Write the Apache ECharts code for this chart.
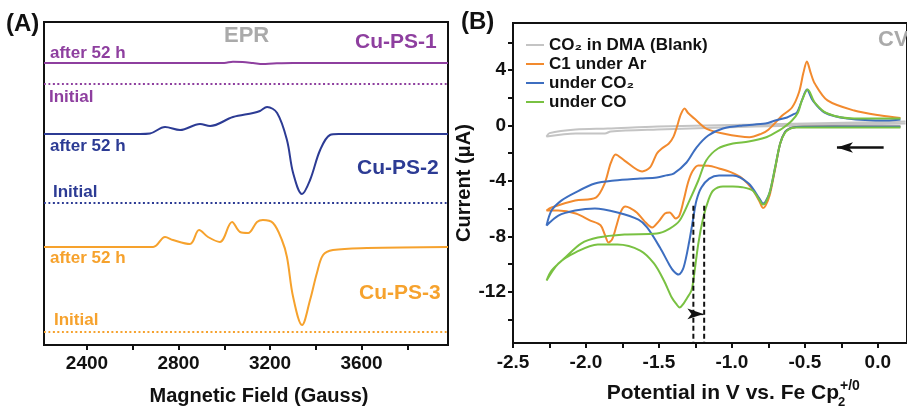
<!DOCTYPE html>
<html>
<head>
<meta charset="utf-8">
<script src="https://cdn.jsdelivr.net/npm/echarts@6/dist/echarts.min.js"></script>
<style>
  html, body { margin: 0; padding: 0; background: #fff; }
  #main { width: 907px; height: 407px; }
</style>
</head>
<body>
<div id="main"></div>
<script>
// ---- (A) EPR: field in Gauss, signal relative to its own baseline (a.u.) ----
var eprFieldTicks = [2400, 2600, 2800, 3000, 3200, 3400, 3600, 3800];
var eprFieldLabels = [2400, 2800, 3200, 3600];
// baseline of each trace on the stacked y axis
var eprOffsets = { ps1: 282, ps1Init: 261, ps2: 211, ps2Init: 142, ps3: 98, ps3Init: 13 };

var ps1After = [[2212,0],[3000,0],[3038,1.3],[3080,1],[3126,0],[3169,-1],[3213,-0.5],[3300,0],[3978,0]];
var ps2After = [[2212,0],[2632,0],[2675,0.5],[2741,7],[2807,4],[2894,10],[2938,8],[3038,17],[3126,21],
  [3156,23],[3187,27],[3231,21],[3274,-6],[3301,-39],[3340,-60],[3375,-46],[3419,-16],[3462,-1],[3500,0],[3978,0]];
var ps3After = [[2212,0],[2689,0],[2741,10],[2776,7],[2850,3],[2890,17],[2929,10],[2981,5],[3034,25],
  [3069,15],[3104,14],[3143,25],[3169,27],[3213,24],[3252,7],[3274,-10],[3301,-50],[3340,-78],[3375,-53],
  [3405,-26],[3432,-8],[3475,-3],[3624,-1],[3978,0]];
var initialFlat = [[2212,0],[3978,0]];

// ---- (B) CV: potential (V vs Fc) and current (uA), loops in scan order ----
var cvTicksX = [-2.5,-2.25,-2,-1.75,-1.5,-1.25,-1,-0.75,-0.5,-0.25,0];
var cvLabelsX = [-2.5,-2,-1.5,-1,-0.5,0];
var cvTicksY = [-14,-12,-10,-8,-6,-4,-2,0,2,4,6];
var cvLabelsY = [-12,-8,-4,0,4];

var blank = [[0.19,0.14],[-0.84,-0.07],[-1.51,-0.29],[-1.83,-0.43],[-1.87,-0.58],[-2.07,-0.58],[-2.27,-0.79],
  [-2.25,-0.55],[-2.07,-0.29],[-1.85,-0.22],[-1.51,-0.07],[-0.84,0.07],[0.19,0.29]];

var c1Ar = [[0.155,-0.07],[-0.3,-0.07],[-0.56,-0.1],[-0.6,-0.2],[-0.635,-0.45],[-0.669,-1.3],[-0.703,-3.1],
  [-0.74,-5.0],[-0.77,-5.8],[-0.787,-5.95],[-0.81,-5.5],[-0.86,-4.6],[-0.93,-3.8],[-1.0,-3.4],[-1.088,-3.1],
  [-1.16,-2.9],[-1.23,-2.89],[-1.27,-3.3],[-1.3,-4.1],[-1.331,-5.42],[-1.36,-6.5],[-1.385,-6.71],[-1.426,-6.28],
  [-1.459,-6.35],[-1.5,-6.9],[-1.547,-7.36],[-1.6,-6.9],[-1.65,-6.3],[-1.7,-5.95],[-1.73,-5.85],[-1.76,-6.2],
  [-1.79,-7.2],[-1.82,-8.2],[-1.845,-8.45],[-1.87,-7.9],[-1.9,-7.2],[-1.97,-6.86],[-2.07,-6.35],[-2.19,-6.14],
  [-2.27,-6.14],
  [-2.236,-5.92],[-2.074,-5.42],[-1.932,-5.2],[-1.872,-4.19],[-1.831,-2.74],[-1.797,-2.09],[-1.736,-2.53],
  [-1.615,-3.32],[-1.561,-3.03],[-1.514,-2.02],[-1.48,-1.66],[-1.432,-1.3],[-1.4,-0.8],[-1.378,-0.14],
  [-1.35,0.8],[-1.324,1.23],[-1.3,0.9],[-1.257,0.5],[-1.176,-0.22],[-1.061,-0.58],[-0.88,-0.85],[-0.8,-0.6],
  [-0.75,-0.3],[-0.655,0.72],[-0.588,1.3],[-0.54,2.4],[-0.51,3.8],[-0.486,4.62],[-0.46,3.8],[-0.432,3.03],
  [-0.345,1.81],[-0.162,1.08],[0.02,0.72],[0.155,0.55]];

var underCO2 = [[0.155,-0.07],[-0.3,-0.07],[-0.56,-0.1],[-0.6,-0.2],[-0.635,-0.45],[-0.669,-1.3],[-0.703,-3.0],
  [-0.74,-4.8],[-0.77,-5.5],[-0.787,-5.63],[-0.81,-5.3],[-0.885,-4.19],[-0.993,-3.61],[-1.088,-3.61],
  [-1.155,-3.83],[-1.209,-4.48],[-1.243,-5.42],[-1.264,-6.64],[-1.291,-8.3],[-1.331,-10.25],[-1.365,-10.76],
  [-1.4,-10.5],[-1.426,-10.1],[-1.493,-8.81],[-1.581,-7.36],[-1.64,-6.8],[-1.784,-6.28],[-1.939,-5.99],
  [-2.074,-6.14],[-2.189,-6.5],[-2.27,-7.22],
  [-2.236,-6.14],[-2.169,-5.42],[-2.074,-4.84],[-1.939,-4.19],[-1.804,-3.97],[-1.628,-3.83],[-1.514,-3.75],
  [-1.45,-3.6],[-1.399,-3.47],[-1.311,-2.67],[-1.243,-1.59],[-1.162,-0.72],[-1.061,-0.22],[-0.926,0],
  [-0.77,0.14],[-0.703,0.36],[-0.622,0.58],[-0.58,0.8],[-0.554,0.94],[-0.52,1.81],[-0.486,2.6],[-0.446,1.81],
  [-0.365,0.94],[-0.209,0.51],[0.061,0.36],[0.155,0.43]];

var underCO = [[0.155,-0.14],[-0.3,-0.14],[-0.56,-0.14],[-0.6,-0.22],[-0.635,-0.5],[-0.669,-1.3],[-0.703,-3.0],
  [-0.74,-4.8],[-0.77,-5.6],[-0.787,-5.7],[-0.81,-5.4],[-0.858,-4.69],[-0.93,-4.45],[-0.993,-4.4],
  [-1.061,-4.4],[-1.128,-4.69],[-1.162,-5.42],[-1.196,-6.64],[-1.23,-8.52],[-1.264,-11.19],[-1.277,-11.91],
  [-1.31,-12.5],[-1.331,-12.85],[-1.358,-13.14],[-1.38,-12.9],[-1.412,-12.42],[-1.466,-11.19],[-1.534,-9.96],
  [-1.628,-9.03],[-1.784,-8.59],[-1.919,-8.59],[-2.074,-9.17],[-2.189,-9.96],[-2.27,-11.19],
  [-2.236,-10.47],[-2.142,-9.53],[-2.034,-8.52],[-1.919,-8.09],[-1.736,-7.87],[-1.514,-7.8],[-1.426,-7.44],
  [-1.358,-6.86],[-1.291,-5.42],[-1.23,-3.97],[-1.176,-2.53],[-1.095,-1.66],[-0.993,-1.3],[-0.885,-1.16],
  [-0.77,-0.87],[-0.7,-0.5],[-0.655,-0.22],[-0.588,0.36],[-0.547,0.94],[-0.52,1.81],[-0.48,2.6],[-0.432,1.66],
  [-0.345,0.87],[-0.162,0.51],[0.155,0.51]];

// onset markers (dashed drop lines) and scan-direction arrow
var onsetPotentials = [-1.264, -1.19];
var onsetTop = -5.8;
var shiftArrowY = -13.6;
var scanArrow = { from: [0.04, -1.59], to: [-0.28, -1.59] };

var FONT = 'Liberation Sans, Arial, sans-serif';
var C = {
  purple: '#8e3f9f', navy: '#2c3b94', amber: '#f6a22d',
  gray: '#c4c4c4', orange: '#f28a2e', blue: '#3d6ec0', green: '#79c142'
};

function shift(arr, off) {
  return arr.map(function (p) { return [p[0], p[1] + off]; });
}

function eprLine(name, data, color, dotted) {
  return {
    name: name, type: 'line', xAxisIndex: 0, yAxisIndex: 0,
    data: data, smooth: 0.35, symbol: 'none', silent: true,
    lineStyle: { color: color, width: dotted ? 2.2 : 2, type: dotted ? [2, 2.5] : 'solid' }
  };
}

function cvLine(name, data, color, w) {
  return {
    name: name, type: 'line', xAxisIndex: 1, yAxisIndex: 1,
    data: data, smooth: 0.3, symbol: 'none', silent: true,
    itemStyle: { color: color },
    lineStyle: { color: color, width: w || 2 }
  };
}

function txt(text, x, y, size, color, align) {
  return {
    type: 'text', x: x, y: y, silent: true,
    style: {
      text: text, fill: color || '#111', font: 'bold ' + size + 'px ' + FONT,
      align: align || 'left', verticalAlign: 'middle',
      textAlign: align || 'left', textVerticalAlign: 'middle'
    }
  };
}

var axisBlack = { show: true, onZero: false, lineStyle: { color: '#111', width: 2 } };
var tickLbl = { fontSize: 19, fontWeight: 'bold', color: '#111', fontFamily: FONT };

var series = [
  eprLine('ps1', shift(ps1After, eprOffsets.ps1), C.purple),
  eprLine('ps1i', shift(initialFlat, eprOffsets.ps1Init), C.purple, true),
  eprLine('ps2', shift(ps2After, eprOffsets.ps2), C.navy),
  eprLine('ps2i', shift(initialFlat, eprOffsets.ps2Init), C.navy, true),
  eprLine('ps3', shift(ps3After, eprOffsets.ps3), C.amber),
  eprLine('ps3i', shift(initialFlat, eprOffsets.ps3Init), C.amber, true),
  cvLine('CO₂ in DMA (Blank)', blank, C.gray, 2),
  cvLine('C1 under Ar', c1Ar, C.orange),
  cvLine('under CO₂', underCO2, C.blue),
  cvLine('under CO', underCO, C.green)
];

// dashed onset lines + little shift arrow + scan arrow
onsetPotentials.forEach(function (v, i) {
  var s = {
    name: 'onset' + i, type: 'line', xAxisIndex: 1, yAxisIndex: 1, symbol: 'none', silent: true,
    data: [[v, onsetTop], [v, -15.7]],
    lineStyle: { color: '#111', width: 2, type: [5, 3] }
  };
  if (i === 0) {
    s.markLine = {
      silent: true, symbol: ['none', 'arrow'], label: { show: false },
      data: [
        [{ coord: [onsetPotentials[0] + 0.01, shiftArrowY], symbolSize: 7, lineStyle: { width: 1.2, type: 'solid', color: '#111' } },
         { coord: [onsetPotentials[1] - 0.005, shiftArrowY] }],
        [{ coord: scanArrow.from, symbolSize: 16, lineStyle: { width: 2.5, type: 'solid', color: '#111' } },
         { coord: scanArrow.to }]
      ]
    };
  }
  series.push(s);
});

var chart = echarts.init(document.getElementById('main'));
chart.setOption({
  animation: false,
  backgroundColor: '#fff',
  textStyle: { fontFamily: FONT },
  grid: [
    { left: 44, top: 22, width: 404, height: 323, show: true, borderColor: '#111', borderWidth: 2 },
    { left: 513, top: 23, width: 400, height: 320, show: true, borderColor: '#111', borderWidth: 2 }
  ],
  legend: {
    data: ['CO₂ in DMA (Blank)', 'C1 under Ar', 'under CO₂', 'under CO'],
    orient: 'vertical', left: 521, top: 31, icon: 'rect',
    itemWidth: 18, itemHeight: 2, itemGap: 1, selectedMode: false,
    textStyle: { fontSize: 17, fontWeight: 'bold', color: '#111', fontFamily: FONT, lineHeight: 18 }
  },
  xAxis: [
    {
      gridIndex: 0, type: 'value', min: 2212, max: 3978,
      axisLine: axisBlack, splitLine: { show: false },
      axisTick: { customValues: eprFieldTicks, length: 5, lineStyle: { color: '#111', width: 2 } },
      axisLabel: Object.assign({ customValues: eprFieldLabels, margin: 9,
        formatter: function (v) { return String(v); } }, tickLbl)
    },
    {
      gridIndex: 1, type: 'value', min: -2.5, max: 0.2,
      axisLine: axisBlack, splitLine: { show: false },
      axisTick: { customValues: cvTicksX, length: 5, lineStyle: { color: '#111', width: 2 } },
      axisLabel: Object.assign({ customValues: cvLabelsX, margin: 10,
        formatter: function (v) { return v.toFixed(1); } }, tickLbl)
    }
  ],
  yAxis: [
    { gridIndex: 0, type: 'value', min: 0, max: 323, show: false },
    {
      gridIndex: 1, type: 'value', min: -15.7, max: 7.4,
      name: 'Current (μA)', nameLocation: 'middle', nameGap: 32, nameRotate: 90,
      nameTextStyle: { fontSize: 20, fontWeight: 'bold', color: '#111', fontFamily: FONT },
      axisLine: axisBlack, splitLine: { show: false },
      axisTick: { customValues: cvTicksY, length: 5, lineStyle: { color: '#111', width: 2 } },
      axisLabel: Object.assign({ customValues: cvLabelsY, margin: 7 }, tickLbl)
    }
  ],
  graphic: [
    txt('(A)', 6, 24, 24),
    txt('EPR', 224, 36, 22, '#aaaaaa'),
    txt('Cu-PS-1', 355, 42, 21, C.purple),
    txt('after 52 h', 50, 53, 17, C.purple),
    txt('Initial', 49, 97, 17, C.purple),
    txt('after 52 h', 50, 146, 17, C.navy),
    txt('Cu-PS-2', 357, 168, 21, C.navy),
    txt('Initial', 53, 192, 17, C.navy),
    txt('after 52 h', 50, 258, 17, C.amber),
    txt('Cu-PS-3', 359, 293, 21, C.amber),
    txt('Initial', 54, 320, 17, C.amber),
    txt('Magnetic Field (Gauss)', 259, 396, 20, '#111', 'center'),
    txt('(B)', 461, 22, 24),
    txt('CV', 878, 40, 22, '#aaaaaa'),
    txt('Potential in V vs. Fe Cp', 839, 393, 21, '#111', 'right'),
    txt('2', 838, 402, 13),
    txt('+/0', 840, 386, 14)
  ],
  series: series
});
</script>
</body>
</html>
